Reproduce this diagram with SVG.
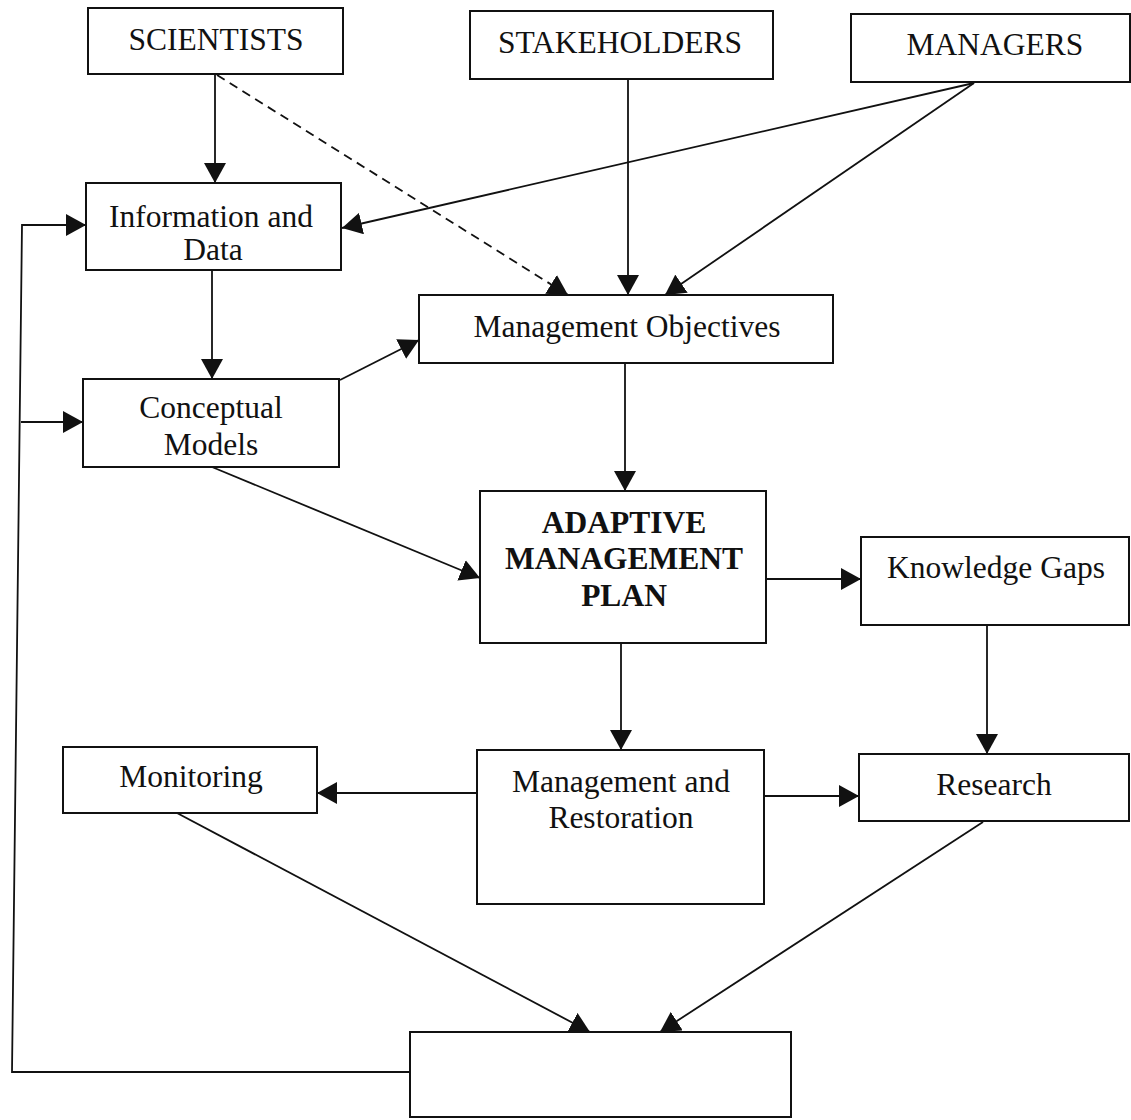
<svg xmlns="http://www.w3.org/2000/svg" width="1131" height="1120" viewBox="0 0 1131 1120">
  <style>
    .box { fill: #fff; stroke: #111; stroke-width: 2; }
    .lbl { font-family: "Liberation Serif", "Times New Roman", serif; font-size: 31.5px; fill: #111; text-anchor: middle; }
    .bold { font-weight: bold; }
    .edge { fill: none; stroke: #111; stroke-width: 1.8; marker-end: url(#arrow); }
    .plain { fill: none; stroke: #111; stroke-width: 1.8; }
    .dash { stroke-dasharray: 9 6; }
  </style>
  <defs>
    <marker id="arrow" markerUnits="userSpaceOnUse" markerWidth="20" markerHeight="22" refX="20" refY="11" orient="auto">
      <path d="M0,0 L20,11 L0,22 Z" fill="#111"/>
    </marker>
  </defs>
  <rect width="1131" height="1120" fill="#fff"/>

  <g id="connectors">
    <path class="edge" d="M215,74 L215,183"/>
    <path class="edge dash" d="M217,75 L568,295"/>
    <path class="edge" d="M628,79 L628,295"/>
    <path class="edge" d="M974,83 L342,228"/>
    <path class="edge" d="M974,83 L665,295"/>
    <path class="edge" d="M212,270 L212,379"/>
    <path class="edge" d="M340,380 L419,340"/>
    <path class="edge" d="M212,467 L480,578"/>
    <path class="edge" d="M625,363 L625,491"/>
    <path class="edge" d="M766,579 L861,579"/>
    <path class="edge" d="M987,625 L987,754"/>
    <path class="edge" d="M621,643 L621,750"/>
    <path class="edge" d="M477,793 L317,793"/>
    <path class="edge" d="M764,796 L859,796"/>
    <path class="edge" d="M177,813 L590,1032"/>
    <path class="edge" d="M983,822 L660,1032"/>
    <!-- feedback loop from the bottom box back to the information stages -->
    <path class="edge" d="M410,1072 L12,1072 L22,225 L86,225"/>
    <path class="edge" d="M21,422 L83,422"/>
  </g>

  <g id="scientists">
    <rect class="box" x="88" y="8" width="255" height="66"/>
    <text class="lbl" x="216" y="50">SCIENTISTS</text>
  </g>
  <g id="stakeholders">
    <rect class="box" x="470" y="11" width="303" height="68"/>
    <text class="lbl" x="620" y="53">STAKEHOLDERS</text>
  </g>
  <g id="managers">
    <rect class="box" x="851" y="14" width="279" height="68"/>
    <text class="lbl" x="995" y="55">MANAGERS</text>
  </g>
  <g id="information-data">
    <rect class="box" x="86" y="183" width="255" height="87"/>
    <text class="lbl" x="211" y="227">Information and</text>
    <text class="lbl" x="213" y="260">Data</text>
  </g>
  <g id="management-objectives">
    <rect class="box" x="419" y="295" width="414" height="68"/>
    <text class="lbl" x="627" y="337">Management Objectives</text>
  </g>
  <g id="conceptual-models">
    <rect class="box" x="83" y="379" width="256" height="88"/>
    <text class="lbl" x="211" y="418">Conceptual</text>
    <text class="lbl" x="211" y="455">Models</text>
  </g>
  <g id="adaptive-plan">
    <rect class="box" x="480" y="491" width="286" height="152"/>
    <text class="lbl bold" x="624" y="533">ADAPTIVE</text>
    <text class="lbl bold" x="624" y="569">MANAGEMENT</text>
    <text class="lbl bold" x="624" y="606">PLAN</text>
  </g>
  <g id="knowledge-gaps">
    <rect class="box" x="861" y="537" width="268" height="88"/>
    <text class="lbl" x="996" y="578">Knowledge Gaps</text>
  </g>
  <g id="monitoring">
    <rect class="box" x="63" y="747" width="254" height="66"/>
    <text class="lbl" x="191" y="787">Monitoring</text>
  </g>
  <g id="management-restoration">
    <rect class="box" x="477" y="750" width="287" height="154"/>
    <text class="lbl" x="621" y="792">Management and</text>
    <text class="lbl" x="621" y="828">Restoration</text>
  </g>
  <g id="research">
    <rect class="box" x="859" y="754" width="270" height="67"/>
    <text class="lbl" x="994" y="795">Research</text>
  </g>
  <g id="evaluation">
    <rect class="box" x="410" y="1032" width="381" height="85"/>
  </g>
</svg>
